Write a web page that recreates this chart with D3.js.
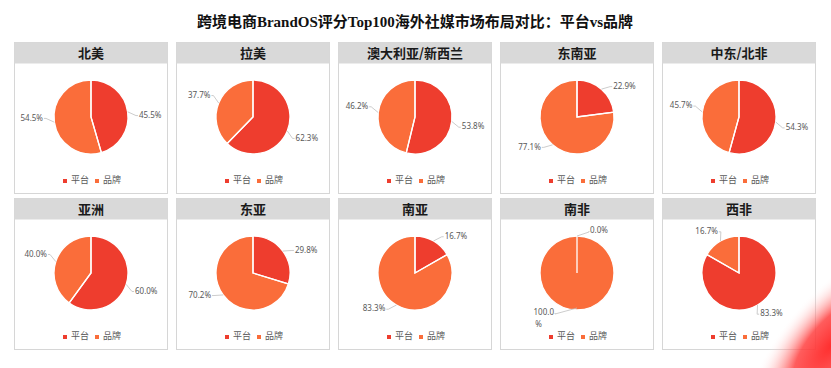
<!DOCTYPE html>
<html><head><meta charset="utf-8">
<script src="https://cdn.jsdelivr.net/npm/d3@7"></script>
<style>body{margin:0;background:#fff;}svg{display:block;}</style>
</head><body>
<script>
const chartTitle = "跨境电商BrandOS评分Top100海外社媒市场布局对比：平台vs品牌";
const regions = ["北美","拉美","澳大利亚/新西兰","东南亚","中东/北非","亚洲","东亚","南亚","南非","西非"];
const platformShare = [45.5, 62.3, 53.8, 22.9, 54.3, 60.0, 29.8, 16.7, 0.0, 83.3];
const brandShare    = [54.5, 37.7, 46.2, 77.1, 45.7, 40.0, 70.2, 83.3, 100.0, 16.7];
const seriesNames = ["平台", "品牌"];

const W = 831, H = 368;
const colors = d3.scaleOrdinal().domain(seriesNames).range(["#EE3D2E", "#FA6D3A"]);
const svg = d3.select("body").append("svg").attr("width", W).attr("height", H);

const defs = svg.append("defs");
const rg = defs.append("radialGradient").attr("id","blob").attr("cx","50%").attr("cy","50%").attr("r","50%");
rg.append("stop").attr("offset","0%").attr("stop-color","#ff2e2e").attr("stop-opacity",1);
rg.append("stop").attr("offset","45%").attr("stop-color","#ff4040").attr("stop-opacity",0.85);
rg.append("stop").attr("offset","100%").attr("stop-color","#ffffff").attr("stop-opacity",0);

svg.append("text").attr("x", 415).attr("y", 24)
  .attr("text-anchor","middle").attr("dominant-baseline","middle")
  .attr("font-family","'Liberation Serif','Noto Sans CJK SC',serif")
  .attr("font-weight","bold").attr("font-size",15).attr("fill","#111")
  .text(chartTitle);

const cols = 5, pw = 153, ph = 151, stepX = 162, stepY = 156, x0 = 14, y0 = 42, headH = 21;
const R = 37;
const pie = d3.pie().sort(null).value(d => d.v);
const arc = d3.arc().innerRadius(0).outerRadius(R);
const fmt = v => d3.format(".1f")(v) + "%";

regions.forEach((name, i) => {
  const col = i % cols, row = Math.floor(i / cols);
  const g = svg.append("g").attr("transform", `translate(${x0 + col*stepX},${y0 + row*stepY})`);
  g.append("rect").attr("x",0.5).attr("y",0.5).attr("width",pw).attr("height",ph)
    .attr("fill","#fff").attr("stroke","#D6D6D6");
  g.append("rect").attr("x",0.5).attr("y",0.5).attr("width",pw).attr("height",headH)
    .attr("fill","#D9D9D9");
  g.append("text").attr("x", pw/2 + 0.5).attr("y", headH/2 + 1.5)
    .attr("text-anchor","middle").attr("dominant-baseline","middle")
    .attr("font-family","'Noto Sans CJK SC',sans-serif").attr("font-weight","bold")
    .attr("font-size",13).attr("fill","#1a1a1a").text(name);

  const cx = pw/2 + 0.5, cy = 75;
  const data = [{k: seriesNames[0], v: platformShare[i]}, {k: seriesNames[1], v: brandShare[i]}];
  const arcs = pie(data);
  const pg = g.append("g").attr("transform", `translate(${cx},${cy})`);
  pg.selectAll("path.fill").data(arcs).join("path").attr("class","fill")
    .attr("d", arc).attr("fill", d => colors(d.data.k));
  pg.selectAll("path.edge").data(arcs).join("path").attr("class","edge")
    .attr("d", arc).attr("fill","none").attr("stroke","#fff").attr("stroke-width",1.3);

  arcs.forEach(a => {
    const m = (a.startAngle + a.endAngle) / 2;
    const sx = Math.sin(m), sy = -Math.cos(m);
    const m2 = m + 0.11;
    const lx = Math.sin(m2), ly = -Math.cos(m2);
    let p1 = [sx*R, sy*R], p2, tx, ty, anchor;
    const txt = fmt(a.data.v);
    if (Math.abs(sx) < 0.15 && sy < 0) { // top
      p1 = [0, -R]; p2 = [12, -R - 4]; tx = 13; ty = -R - 5; anchor = "start";
    } else if (Math.abs(sx) < 0.15 && sy > 0) { // bottom
      p1 = [0, R - 2]; p2 = [-22, R + 4]; tx = -23; ty = R + 3; anchor = "end";
    } else {
      p2 = [lx*(R+8), ly*(R+8)];
      anchor = sx > 0 ? "start" : "end";
      tx = p2[0] + (sx > 0 ? 3 : -3); ty = p2[1];
    }
    pg.append("path").attr("d", d3.line()([p1, p2, [tx + (anchor==="start"? -1: 1), ty]]))
      .attr("fill","none").attr("stroke","#BFBFBF").attr("stroke-width",0.8);
    const t = pg.append("text").attr("x", tx).attr("y", ty)
      .attr("text-anchor", anchor).attr("dominant-baseline","middle")
      .attr("font-family","'Noto Sans',sans-serif").attr("font-size",8).attr("fill","#595959");
    if (txt.length > 5) {
      t.append("tspan").attr("x", tx).text(txt.slice(0, -1));
      t.append("tspan").attr("x", tx - 12).attr("dy", 12).text("%");
    } else t.text(txt);
  });

  const lg = g.append("g").attr("transform", `translate(${cx - 28},${139})`);
  seriesNames.forEach((s, j) => {
    const ox = j * 32;
    lg.append("rect").attr("x", ox).attr("y", -2).attr("width",4).attr("height",4).attr("fill", colors(s));
    lg.append("text").attr("x", ox + 8).attr("y", 0).attr("dominant-baseline","middle")
      .attr("font-family","'Noto Sans CJK SC',sans-serif").attr("font-size",9).attr("fill","#595959").text(s);
  });
});

svg.append("ellipse").attr("cx", 832).attr("cy", 345).attr("rx", 50).attr("ry", 120)
  .attr("transform","rotate(40,832,345)").attr("fill","url(#blob)");
</script>
</body></html>
